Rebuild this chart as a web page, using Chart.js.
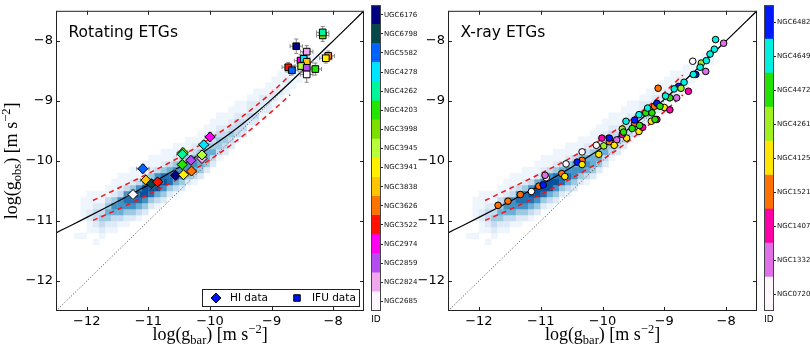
<!DOCTYPE html>
<html>
<head>
<meta charset="utf-8">
<script src="https://cdn.jsdelivr.net/npm/chart.js@4.4.0/dist/chart.umd.min.js"></script>
<style>
  body { margin: 0; background: #fff; width: 810px; height: 354px; position: relative; overflow: hidden; }
  canvas { position: absolute; top: 0; }
</style>
</head>
<body>
<canvas id="rotMain" width="370" height="354" style="left:0px"></canvas>
<canvas id="xrMain" width="362" height="354" style="left:400px"></canvas>
<canvas id="rotBar" width="50" height="354" style="left:371px"></canvas>
<canvas id="xrBar" width="46" height="354" style="left:764px"></canvas>
<script>
// axis ticks
var xTicks = [-12, -11, -10, -9, -8];
var yTicks = [-12, -11, -10, -9, -8];

// galaxy ids / colours (colorbar, top to bottom)
var rotIds = ['UGC6176', 'NGC6798', 'NGC5582', 'NGC4278', 'NGC4262', 'NGC4203', 'NGC3998', 'NGC3945',
              'NGC3941', 'NGC3838', 'NGC3626', 'NGC3522', 'NGC2974', 'NGC2859', 'NGC2824', 'NGC2685'];
var rotColors = ['#000080', '#06474a', '#0062ff', '#00e5ff', '#00f59a', '#22e600', '#7be000', '#b8ff3c',
                 '#fff000', '#ffc600', '#ff7300', '#ff1200', '#ff00f0', '#b44cf0', '#f0a8ec', '#fff7fd'];
var xrIds = ['NGC6482', 'NGC4649', 'NGC4472', 'NGC4261', 'NGC4125', 'NGC1521', 'NGC1407', 'NGC1332', 'NGC0720'];
var xrColors = ['#0018ff', '#00f0e0', '#22e000', '#a0f020', '#ffe600', '#ff7000', '#ff00a8', '#e070e8', '#fff7fd'];

// HI data (diamonds)
var hiX  = [-11.25, -11.09, -11.04, -10.95, -10.85, -10.56, -10.43, -10.30, -10.45, -10.44, -10.45, -10.31, -10.13, -10.13, -10.10, -10.00];
var hiY  = [-10.56, -10.13, -10.32, -10.38, -10.35, -10.24, -10.23, -10.17, -10.06, -9.86, -9.89, -9.99, -9.96, -9.90, -9.73, -9.60];
var hiId = [15, 2, 9, 1, 11, 0, 8, 10, 5, 6, 4, 13, 14, 7, 3, 12];
var hiErrX = [0.10, 0.10, 0.09, 0.09, 0.09, 0.09, 0.08, 0.08, 0.08, 0.08, 0.09, 0.08, 0.08, 0.08, 0.08, 0.08];
var hiErrY = [0.08, 0.07, 0.07, 0.07, 0.07, 0.09, 0.07, 0.07, 0.07, 0.07, 0.07, 0.07, 0.07, 0.07, 0.07, 0.07];

// IFU data (squares)
var ifuX  = [-8.17, -8.17, -8.60, -8.43, -8.08, -8.12, -8.73, -8.67, -8.53, -8.48, -8.43, -8.52, -8.43, -8.29, -8.43];
var ifuY  = [-7.91, -7.86, -8.09, -8.18, -8.25, -8.29, -8.44, -8.49, -8.33, -8.30, -8.35, -8.42, -8.45, -8.47, -8.56];
var ifuId = [6, 4, 0, 14, 10, 8, 11, 2, 12, 3, 9, 7, 13, 5, 15];
var ifuErrX = [0.10, 0.10, 0.10, 0.10, 0.10, 0.10, 0.10, 0.10, 0.10, 0.10, 0.10, 0.10, 0.10, 0.10, 0.10];
var ifuErrY = [0.10, 0.10, 0.12, 0.10, 0.08, 0.08, 0.08, 0.08, 0.10, 0.10, 0.10, 0.10, 0.10, 0.10, 0.13];

// X-ray data (circles)
var xrX = [-11.69, -11.53, -11.33, -11.03, -10.66, -10.33, -9.89, -9.48, -9.16, -9.10,
           -11.15, -10.91, -10.59, -10.33, -10.10, -8.54,
           -10.96, -10.41, -9.89, -9.48, -9.12, -8.77, -8.49,
           -10.93, -9.77, -8.80, -8.33, -8.04,
           -10.61, -10.33, -10.06, -9.81, -9.61, -9.41, -9.21, -9.00,
           -9.98, -9.68, -8.73, -8.40,
           -10.01, -9.68, -9.35, -9.12, -8.91, -8.61,
           -9.66, -9.52, -9.40, -9.30, -9.20, -9.15, -9.07, -8.91,
           -9.62, -9.41, -9.27, -8.98, -8.84, -8.68, -8.53, -8.42, -8.32, -8.26, -8.19, -8.17];
var xrY = [-10.74, -10.67, -10.56, -10.42, -10.21, -9.99, -9.68, -9.38, -9.09, -8.79,
           -10.51, -10.28, -10.05, -9.85, -9.74, -8.34,
           -10.40, -10.02, -9.62, -9.32, -9.04, -8.76, -8.56,
           -10.24, -9.65, -8.95, -8.51, -8.04,
           -10.26, -10.06, -9.89, -9.74, -9.62, -9.51, -9.34, -9.11,
           -9.75, -9.47, -8.79, -8.37,
           -9.62, -9.56, -9.44, -9.31, -9.15, -8.84,
           -9.52, -9.46, -9.41, -9.20, -9.20, -9.31, -9.09, -8.95,
           -9.34, -9.23, -9.12, -8.92, -8.80, -8.69, -8.56, -8.44, -8.33, -8.22, -8.14, -7.98];
var xrId = [5, 5, 5, 5, 5, 5, 5, 5, 5, 5,
            8, 8, 8, 8, 8, 8,
            0, 0, 0, 0, 0, 0, 0,
            7, 7, 7, 7, 7,
            4, 4, 4, 4, 4, 4, 4, 4,
            3, 3, 3, 3,
            6, 6, 6, 6, 6, 6,
            2, 2, 2, 2, 2, 2, 2, 2,
            1, 1, 1, 1, 1, 1, 1, 1, 1, 1, 1, 1];

// relation (black), scatter band (red dashed), 1:1 (dotted)
var curveX = [-12.5, -12.25, -12, -11.75, -11.5, -11.25, -11, -10.75, -10.5, -10.25, -10, -9.75, -9.5, -9.25, -9, -8.75, -8.5, -8, -7.5];
var curveY = [-11.199, -11.071, -10.941, -10.809, -10.676, -10.539, -10.399, -10.255, -10.104, -9.945, -9.777, -9.598, -9.405, -9.197, -8.975, -8.741, -8.497, -8.0, -7.5];
var bandX  = [-11.9, -11.5, -11, -10.5, -10, -9.5, -9, -8.7];
var bandUp = [-10.66, -10.46, -10.21, -9.94, -9.63, -9.28, -8.86, -8.57];
var bandLo = [-10.99, -10.81, -10.56, -10.29, -9.98, -9.61, -9.18, -8.90];
var oneX = [-12.5, -7.5];

// 2D histogram of the reference sample: [x centre, lowest y centre, levels going up]
var histBin = 0.1;
var histCols = [
  [-12.15, -11.25, [1]],
  [-12.05, -11.25, [1, 0, 0, 1, 1, 1, 1]],
  [-11.95, -11.15, [1, 1, 2, 2, 1, 1, 1]],
  [-11.85, -11.35, [1, 0, 1, 2, 3, 3, 2, 1, 1]],
  [-11.75, -11.25, [1, 2, 3, 4, 3, 2, 1, 1]],
  [-11.65, -11.15, [1, 2, 4, 5, 4, 3, 1, 1]],
  [-11.55, -11.15, [1, 2, 3, 5, 6, 4, 2, 1, 1]],
  [-11.45, -11.05, [1, 3, 5, 6, 6, 3, 2, 1, 1]],
  [-11.35, -11.05, [1, 2, 4, 6, 7, 6, 3, 1, 1]],
  [-11.25, -10.95, [2, 4, 6, 7, 7, 4, 2, 1, 1]],
  [-11.15, -10.95, [1, 3, 5, 7, 8, 6, 3, 1, 1]],
  [-11.05, -10.85, [2, 4, 6, 8, 8, 5, 2, 1, 1]],
  [-10.95, -10.75, [2, 4, 7, 8, 7, 4, 2, 1, 1]],
  [-10.85, -10.75, [1, 3, 5, 8, 8, 6, 3, 1, 1]],
  [-10.75, -10.65, [2, 4, 6, 8, 7, 4, 2, 1, 1]],
  [-10.65, -10.55, [2, 4, 7, 7, 5, 3, 1, 1]],
  [-10.55, -10.55, [1, 3, 5, 7, 6, 4, 2, 1, 1]],
  [-10.45, -10.45, [2, 4, 6, 6, 5, 3, 1, 1]],
  [-10.35, -10.35, [2, 4, 6, 6, 4, 2, 1, 1]],
  [-10.25, -10.35, [1, 3, 5, 6, 5, 3, 2, 1]],
  [-10.15, -10.25, [2, 4, 5, 5, 4, 2, 1, 1]],
  [-10.05, -10.15, [2, 4, 5, 5, 3, 2, 1, 1]],
  [-9.95, -10.05, [2, 3, 5, 4, 3, 2, 1, 1]],
  [-9.85, -9.95, [1, 3, 4, 4, 3, 2, 1, 1]],
  [-9.75, -9.85, [2, 3, 4, 3, 2, 1, 1]],
  [-9.65, -9.75, [2, 3, 4, 3, 2, 1, 1]],
  [-9.55, -9.65, [1, 3, 3, 3, 2, 1, 1]],
  [-9.45, -9.55, [2, 3, 3, 2, 1, 1]],
  [-9.35, -9.45, [1, 2, 3, 2, 2, 1]],
  [-9.25, -9.35, [2, 3, 2, 2, 1, 1]],
  [-9.15, -9.25, [1, 2, 2, 2, 1]],
  [-9.05, -9.15, [2, 2, 2, 1, 1]],
  [-8.95, -9.05, [1, 2, 2, 1, 1]],
  [-8.85, -8.95, [1, 2, 1, 1, 1]],
  [-8.75, -8.85, [1, 1, 2, 1]],
  [-8.65, -8.75, [1, 1, 1, 1]],
  [-8.55, -8.65, [1, 1, 1]],
  [-8.45, -8.55, [1, 1, 1]],
  [-8.35, -8.45, [1, 0, 1]],
  [-8.25, -8.35, [1, 1]],
  [-8.15, -8.25, [0, 1]]
];
var blues = ['#ffffff', '#eef5fc', '#deebf7', '#c6dbef', '#9ecae1', '#6baed6', '#4292c6', '#2171b5', '#08519c'];

var sans = 'DejaVu Sans';
var serif = 'Liberation Serif';

function histData() {
  var out = [];
  histCols.forEach(function(col) {
    col[2].forEach(function(v, i) {
      if (v > 0) out.push({ x: col[0], y: col[1] + i * histBin, v: v });
    });
  });
  return out;
}

function pairs(xs, ys) {
  return xs.map(function(x, i) { return { x: x, y: ys[i] }; });
}

function cellRadius(c) {
  var s = c.chart.scales.x;
  if (!s) return 4;
  return Math.abs(s.getPixelForValue(histBin) - s.getPixelForValue(0)) / Math.SQRT2 + 0.25;
}

function baseDatasets() {
  return [
    { label: 'relation', data: pairs(curveX, curveY), showLine: true, borderColor: '#000', borderWidth: 1.2,
      pointRadius: 0, cubicInterpolationMode: 'monotone', order: 2 },
    { label: 'up', data: pairs(bandX, bandUp), showLine: true, borderColor: '#ff1010', borderWidth: 1.5,
      borderDash: [5, 4], pointRadius: 0, cubicInterpolationMode: 'monotone', order: 3 },
    { label: 'lo', data: pairs(bandX, bandLo), showLine: true, borderColor: '#ff1010', borderWidth: 1.5,
      borderDash: [5, 4], pointRadius: 0, cubicInterpolationMode: 'monotone', order: 3 },
    { label: '1:1', data: pairs(oneX, oneX), showLine: true, borderColor: '#444', borderWidth: 1,
      borderDash: [1, 2], pointRadius: 0, order: 4 },
    { label: 'hist', data: histData(), pointStyle: 'rect', pointRadius: cellRadius, borderWidth: 0,
      backgroundColor: function(c) { return blues[c.raw ? c.raw.v : 0]; }, order: 5 }
  ];
}

// math-style axis label: parts [text, 0 normal | 1 sub | 2 sup]
function mathLabel(c, parts, x, y, rot) {
  var big = '18px "' + serif + '"', small = '12.5px "' + serif + '"';
  c.save();
  c.translate(x, y);
  if (rot) c.rotate(-Math.PI / 2);
  c.fillStyle = '#000';
  c.textBaseline = 'alphabetic';
  c.textAlign = 'left';
  var w = 0;
  parts.forEach(function(p) { c.font = p[1] ? small : big; w += c.measureText(p[0]).width; });
  var cx = -w / 2;
  parts.forEach(function(p) {
    c.font = p[1] ? small : big;
    var dy = p[1] === 1 ? 4 : (p[1] === 2 ? -7 : 0);
    c.fillText(p[0], cx, dy);
    cx += c.measureText(p[0]).width;
  });
  c.restore();
}

var errBars = {
  id: 'errBars',
  beforeDatasetDraw: function(chart, args) {
    var ds = chart.data.datasets[args.index];
    if (!ds.errX) return;
    var c = chart.ctx, sx = chart.scales.x, sy = chart.scales.y;
    c.save();
    c.strokeStyle = '#888';
    c.lineWidth = 1;
    c.beginPath();
    ds.data.forEach(function(p, i) {
      var x0 = sx.getPixelForValue(p.x - ds.errX[i]), x1 = sx.getPixelForValue(p.x + ds.errX[i]);
      var y0 = sy.getPixelForValue(p.y - ds.errY[i]), y1 = sy.getPixelForValue(p.y + ds.errY[i]);
      var px = sx.getPixelForValue(p.x), py = sy.getPixelForValue(p.y);
      c.moveTo(x0, py); c.lineTo(x1, py);
      c.moveTo(x0, py - 2); c.lineTo(x0, py + 2);
      c.moveTo(x1, py - 2); c.lineTo(x1, py + 2);
      c.moveTo(px, y0); c.lineTo(px, y1);
      c.moveTo(px - 2, y0); c.lineTo(px + 2, y0);
      c.moveTo(px - 2, y1); c.lineTo(px + 2, y1);
    });
    c.stroke();
    c.restore();
  }
};

var frame = {
  id: 'frame',
  afterDraw: function(chart, args, opts) {
    var a = chart.chartArea, c = chart.ctx, sx = chart.scales.x, sy = chart.scales.y;
    c.save();
    c.strokeStyle = '#222';
    c.lineWidth = 1;
    c.strokeRect(a.left + 0.5, a.top + 0.5, a.right - a.left - 1, a.bottom - a.top - 1);
    c.beginPath();
    sx.ticks.forEach(function(t) {
      var p = Math.round(sx.getPixelForValue(t.value)) + 0.5;
      c.moveTo(p, a.bottom); c.lineTo(p, a.bottom - 4);
      c.moveTo(p, a.top); c.lineTo(p, a.top + 4);
    });
    sy.ticks.forEach(function(t) {
      var p = Math.round(sy.getPixelForValue(t.value)) + 0.5;
      c.moveTo(a.left, p); c.lineTo(a.left + 4, p);
      c.moveTo(a.right, p); c.lineTo(a.right - 4, p);
    });
    c.stroke();

    // panel title
    c.fillStyle = '#000';
    c.font = '15.5px "' + sans + '"';
    c.textBaseline = 'alphabetic';
    c.fillText(opts.title, a.left + 12.5, a.top + 26);

    // axis labels
    var mid = (a.left + a.right) / 2;
    mathLabel(c, [['log(g', 0], ['bar', 1], [') [m s', 0], ['\u22122', 2], [']', 0]], mid, 340, false);
    if (opts.ylabel) {
      mathLabel(c, [['log(g', 0], ['obs', 1], [') [m s', 0], ['\u22122', 2], [']', 0]], 17, (a.top + a.bottom) / 2, true);
    }

    // legend box
    if (opts.legend) {
      var bx1 = a.right - 4, by1 = a.bottom - 4, bx0 = bx1 - 158, by0 = by1 - 18, my = (by0 + by1) / 2;
      c.fillStyle = '#fff';
      c.fillRect(bx0, by0, bx1 - bx0, by1 - by0);
      c.strokeRect(bx0 + 0.5, by0 + 0.5, bx1 - bx0 - 1, by1 - by0 - 1);
      var mk = { pointStyle: 'rectRot', radius: 5, borderWidth: 1 };
      c.fillStyle = '#0010f0';
      c.strokeStyle = '#000';
      Chart.helpers.drawPoint(c, mk, bx0 + 14, my);
      mk = { pointStyle: 'rect', radius: 4.6, borderWidth: 1 };
      c.fillStyle = '#0010f0';
      Chart.helpers.drawPoint(c, mk, bx0 + 95, my);
      c.fillStyle = '#000';
      c.font = '10.5px "' + sans + '"';
      c.textBaseline = 'middle';
      c.fillText('HI data', bx0 + 28, my);
      c.fillText('IFU data', bx0 + 110, my);
    }
    c.restore();
  }
};

function tickFmt(v) {
  return (v < 0 ? '\u2212' : '') + Math.abs(v);
}

function panel(id, yWidth, points, opts) {
  return new Chart(document.getElementById(id), {
    type: 'scatter',
    data: { datasets: points.concat(baseDatasets()) },
    options: {
      responsive: false,
      animation: false,
      events: [],
      layout: { padding: { top: 1, right: 4, left: 0, bottom: 0 } },
      plugins: { legend: { display: false }, tooltip: { enabled: false }, frame: opts },
      scales: {
        x: {
          type: 'linear', min: -12.5, max: -7.5,
          afterBuildTicks: function(s) { s.ticks = xTicks.map(function(v) { return { value: v }; }); },
          grid: { display: false, drawTicks: false },
          border: { display: false },
          ticks: { padding: 3, color: '#000', font: { family: sans, size: 13 }, callback: tickFmt, maxRotation: 0 },
          afterFit: function(s) { s.height = 43; }
        },
        y: {
          type: 'linear', min: -12.5, max: -7.5,
          afterBuildTicks: function(s) { s.ticks = yTicks.map(function(v) { return { value: v }; }); },
          grid: { display: false, drawTicks: false },
          border: { display: false },
          ticks: { padding: 3, color: '#000', font: { family: sans, size: 13 }, callback: tickFmt },
          afterFit: function(s) { s.width = yWidth; }
        }
      }
    },
    plugins: [errBars, frame]
  });
}

var cbarFrame = {
  id: 'cbarFrame',
  afterDraw: function(chart) {
    var a = chart.chartArea, c = chart.ctx;
    c.save();
    c.strokeStyle = '#444';
    c.lineWidth = 1;
    c.strokeRect(a.left + 0.5, a.top + 0.5, a.right - a.left - 1, a.bottom - a.top - 1);
    c.fillStyle = '#000';
    c.font = '9px "' + sans + '"';
    c.textAlign = 'center';
    c.textBaseline = 'top';
    c.fillText('ID', (a.left + a.right) / 2, a.bottom + 4);
    c.restore();
  }
};

function colorbar(id, names, colors, yWidth) {
  return new Chart(document.getElementById(id), {
    type: 'bar',
    data: {
      labels: names,
      datasets: [{ data: names.map(function() { return 1; }), backgroundColor: colors, borderWidth: 0,
                   barPercentage: 1, categoryPercentage: 1 }]
    },
    options: {
      indexAxis: 'y',
      responsive: false,
      animation: false,
      events: [],
      layout: { padding: { top: 1, bottom: 43, left: 0, right: 0 } },
      plugins: { legend: { display: false }, tooltip: { enabled: false } },
      scales: {
        x: { display: false, min: 0, max: 1 },
        y: {
          position: 'right',
          grid: { drawOnChartArea: false, offset: false, tickLength: 2, color: '#222' },
          border: { display: false },
          ticks: { autoSkip: false, padding: 1, color: '#111', font: { family: sans, size: 7 } },
          afterFit: function(s) { s.width = yWidth; }
        }
      }
    },
    plugins: [cbarFrame]
  });
}

// left panel: rotating ETGs
var rotPoints = [
  { label: 'IFU data', data: pairs(ifuX, ifuY), pointStyle: 'rect', pointRadius: 4.7, borderWidth: 1,
    borderColor: '#000', backgroundColor: ifuId.map(function(k) { return rotColors[k]; }),
    errX: ifuErrX, errY: ifuErrY, order: 0 },
  { label: 'HI data', data: pairs(hiX, hiY), pointStyle: 'rectRot', pointRadius: 5, borderWidth: 1,
    borderColor: '#000', backgroundColor: hiId.map(function(k) { return rotColors[k]; }),
    errX: hiErrX, errY: hiErrY, order: 0 }
];
panel('rotMain', 56, rotPoints, { title: 'Rotating ETGs', ylabel: true, legend: true });
colorbar('rotBar', rotIds, rotColors, 40);

// right panel: X-ray ETGs
var xrPoints = [
  { label: 'X-ray', data: pairs(xrX, xrY), pointStyle: 'circle', pointRadius: 3.3, borderWidth: 1,
    borderColor: '#000', backgroundColor: xrId.map(function(k) { return xrColors[k]; }), order: 0 }
];
panel('xrMain', 48, xrPoints, { title: 'X-ray ETGs', ylabel: false, legend: false });
colorbar('xrBar', xrIds, xrColors, 36);
</script>
</body>
</html>
